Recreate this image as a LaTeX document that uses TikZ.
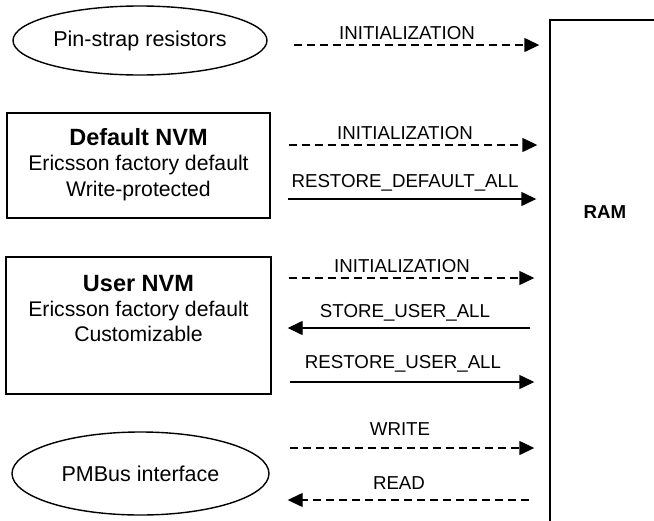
\documentclass[tikz,border=0pt]{standalone}
\usepackage{fontspec}
\setmainfont{Liberation Sans}
\usetikzlibrary{arrows.meta,shapes.geometric}
\tikzset{
  oval/.style={draw, ellipse, line width=1.4pt, inner sep=0pt},
  memory/.style={draw, rectangle, line width=1.4pt, inner sep=0pt},
  lbl/.style={anchor=base, inner sep=0pt, font=\fontsize{18.7}{22}\selectfont},
  boxtxt/.style={anchor=base, inner sep=0pt, font=\fontsize{21.2}{25}\selectfont},
  boxttl/.style={anchor=base, inner sep=0pt, font=\fontsize{23.5}{26}\selectfont\bfseries},
  conn/.style={line width=1.4pt, -{Triangle[length=15pt,width=14pt]}},
  dconn/.style={conn, dash pattern=on 8pt off 5pt},
}
\begin{document}
\begin{tikzpicture}[x=1pt,y=-1pt]
\useasboundingbox (0,0) rectangle (654,520);
\clip (0,0) rectangle (654,520);
% RAM
\node[memory, minimum width=200pt, minimum height=560pt] (ram) at (650,300) {};
\node[anchor=base, inner sep=0pt, font=\fontsize{18.7}{22}\selectfont\bfseries] (ramlbl) at (605,218) {RAM};
% sources
\node[oval, minimum width=254pt, minimum height=69pt, font=\fontsize{21.5}{25}\selectfont] (pin) at (140,40.5) {Pin-strap resistors};
\node[memory, minimum width=263pt, minimum height=105pt] (dnvm) at (138.5,165.5) {};
\node[boxttl] (dnvmt) at (138.5,145.4) {Default NVM};
\node[boxtxt] (dnvm1) at (138.5,170.8) {Ericsson factory default};
\node[boxtxt] (dnvm2) at (138.5,196) {Write-protected};
\node[memory, minimum width=265pt, minimum height=137pt] (unvm) at (138.5,325.5) {};
\node[boxttl] (unvmt) at (138.5,291.4) {User NVM};
\node[boxtxt] (unvm1) at (138.5,316.6) {Ericsson factory default};
\node[boxtxt] (unvm2) at (138.5,341) {Customizable};
\node[oval, minimum width=257pt, minimum height=83pt, font=\fontsize{21.5}{25}\selectfont] (pmb) at (140.5,473.5) {PMBus interface};
% connectors
\draw[dconn, shorten <=26pt, shorten >=10pt] (pin.east |- 0,45) -- (ram.west |- 0,45);
\node[lbl] (l1) at (407,39.7) {INITIALIZATION};
\draw[dconn, shorten <=18pt, shorten >=12pt] (dnvm.east |- 0,145) -- (ram.west |- 0,145);
\node[lbl] (l2) at (405,139.7) {INITIALIZATION};
\draw[conn, shorten <=17pt, shorten >=13pt] (dnvm.east |- 0,199) -- (ram.west |- 0,199);
\node[lbl] (l3) at (405,187.5) {RESTORE\_DEFAULT\_ALL};
\draw[dconn, shorten <=17pt, shorten >=15pt] (unvm.east |- 0,278) -- (ram.west |- 0,278);
\node[lbl] (l4) at (402,272.7) {INITIALIZATION};
\draw[conn, shorten <=19pt, shorten >=16pt] (ram.west |- 0,328) -- (unvm.east |- 0,328);
\node[lbl] (l5) at (405,317.7) {STORE\_USER\_ALL};
\draw[conn, shorten <=18pt, shorten >=15pt] (unvm.east |- 0,382) -- (ram.west |- 0,382);
\node[lbl] (l6) at (403,368.7) {RESTORE\_USER\_ALL};
\draw[dconn, shorten <=20pt, shorten >=15pt] (pmb.east |- 0,448) -- (ram.west |- 0,448);
\node[lbl] (l7) at (400,435.7) {WRITE};
\draw[dconn, shorten <=20pt, shorten >=18pt] (ram.west |- 0,500) -- (pmb.east |- 0,500);
\node[lbl] (l8) at (399,489.7) {READ};
\end{tikzpicture}
\end{document}
